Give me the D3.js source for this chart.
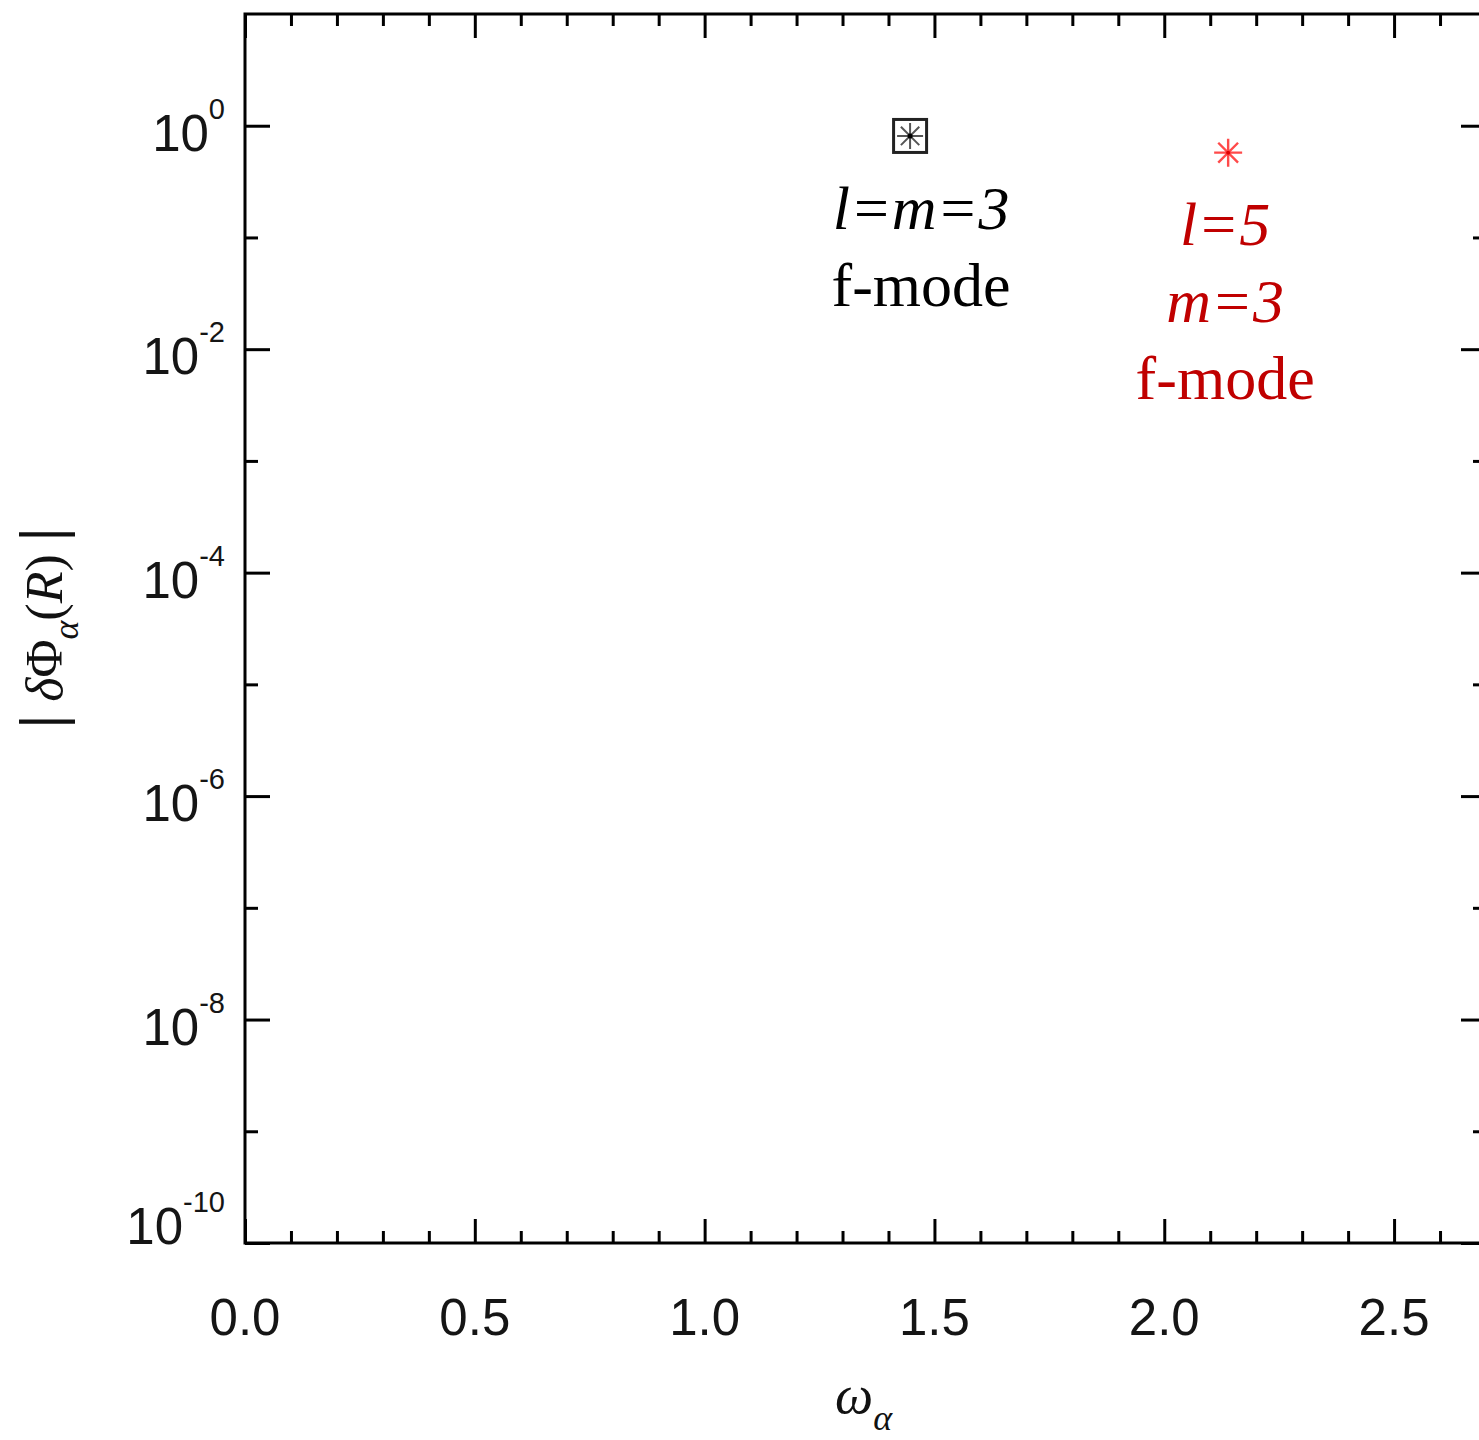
<!DOCTYPE html>
<html><head><meta charset="utf-8">
<script src="https://cdn.jsdelivr.net/npm/d3@7"></script>
<style>body{margin:0;background:#fff}</style>
</head><body><svg id="c" width="1479" height="1440"></svg>
<script>
// ---- data ----
const modeNames = ["l=m=3 f-mode", "l=5 m=3 f-mode"];
const omegaValues = [1.447, 2.139];
const phiValues = [0.81, 0.574];
const xTickValues = [0, 0.5, 1.0, 1.5, 2.0, 2.5];
const xTickLabels = ["0.0", "0.5", "1.0", "1.5", "2.0", "2.5"];
const yTickExponents = [0, -2, -4, -6, -8, -10];
const yMinorExponents = [-1, -3, -5, -7, -9];
const labelLines = [["l=m=3", "f-mode"], ["l=5", "m=3", "f-mode"]];

const svg = d3.select("#c");
const L = 245, T = 14, R = 1486, B = 1243;
const x = d3.scaleLinear().domain([0, 2.7]).range([L, R]);
const y = d3.scaleLog().domain([1e-10, 1e1]).range([B, T]);

const xMinor = d3.range(1, 27).map(d => d / 10).filter(d => Math.abs(d * 2 - Math.round(d * 2)) > 1e-6);
const yMajor = yTickExponents.map(e => Math.pow(10, e));
const yMinor = yMinorExponents.map(e => Math.pow(10, e));

function styleAxis(g) {
  g.select(".domain").remove();
  g.selectAll("line").attr("stroke", "#000").attr("stroke-width", 3);
  g.selectAll("text").remove();
}
// ticks on all four sides, pointing inward
svg.append("g").attr("transform", `translate(0,${B})`).call(d3.axisBottom(x).tickValues(xTickValues).tickSize(-24)).call(styleAxis);
svg.append("g").attr("transform", `translate(0,${B})`).call(d3.axisBottom(x).tickValues(xMinor).tickSize(-12)).call(styleAxis);
svg.append("g").attr("transform", `translate(0,${T})`).call(d3.axisTop(x).tickValues(xTickValues).tickSize(-24)).call(styleAxis);
svg.append("g").attr("transform", `translate(0,${T})`).call(d3.axisTop(x).tickValues(xMinor).tickSize(-12)).call(styleAxis);
svg.append("g").attr("transform", `translate(${L},0)`).call(d3.axisLeft(y).tickValues(yMajor).tickSize(-25)).call(styleAxis);
svg.append("g").attr("transform", `translate(${L},0)`).call(d3.axisLeft(y).tickValues(yMinor).tickSize(-13)).call(styleAxis);
svg.append("g").attr("transform", `translate(${R},0)`).call(d3.axisRight(y).tickValues(yMajor).tickSize(-25)).call(styleAxis);
svg.append("g").attr("transform", `translate(${R},0)`).call(d3.axisRight(y).tickValues(yMinor).tickSize(-13)).call(styleAxis);

// frame
svg.append("rect").attr("x", L).attr("y", T).attr("width", R - L).attr("height", B - T)
  .attr("fill", "none").attr("stroke", "#000").attr("stroke-width", 3);

// x tick labels
svg.append("g").selectAll("text").data(xTickValues).join("text")
  .attr("x", d => x(d)).attr("y", 1335).attr("text-anchor", "middle")
  .attr("font-family", "Liberation Sans, Arial, sans-serif").attr("font-size", 51).attr("fill", "#151515")
  .text((d, i) => xTickLabels[i]);

// y tick labels
const yl = svg.append("g").selectAll("text").data(yTickExponents).join("text")
  .attr("x", 225)
  .attr("y", (d, i) => y(Math.pow(10, d)) + (i === yTickExponents.length - 1 ? 1 : 25))
  .attr("text-anchor", "end")
  .attr("font-family", "Liberation Sans, Arial, sans-serif").attr("fill", "#151515");
yl.append("tspan").attr("font-size", 51).text("10");
yl.append("tspan").attr("font-size", 29).attr("dy", -32).text(d => String(d));

// axis titles
const xt = svg.append("text").attr("x", 835).attr("y", 1413)
  .attr("font-family", "Liberation Serif, Times New Roman, serif").attr("font-style", "italic").attr("fill", "#111");
xt.append("tspan").attr("font-size", 54).text("ω");
xt.append("tspan").attr("font-size", 36).attr("dy", 17).text("α");

const ytG = svg.append("g").attr("transform", "translate(62,628) rotate(-90)");
const yt = ytG.append("text").attr("text-anchor", "middle")
  .attr("font-family", "Liberation Serif, Times New Roman, serif").attr("font-size", 52).attr("fill", "#111");
yt.append("tspan").attr("font-size", 62).attr("font-weight", "bold").text("|");
yt.append("tspan").text(" ");
yt.append("tspan").attr("font-style", "italic").text("δ");
yt.append("tspan").text("Φ");
yt.append("tspan").attr("font-style", "italic").attr("font-size", 36).attr("dy", 16).text("α");
yt.append("tspan").attr("dy", -16).text("(");
yt.append("tspan").attr("font-style", "italic").text("R");
yt.append("tspan").text(") ");
yt.append("tspan").attr("font-size", 62).attr("font-weight", "bold").text("|");

// markers
function asterisk(cx, cy, r) {
  let p = "";
  for (let k = 0; k < 4; k++) {
    const a = k * Math.PI / 4;
    p += `M${cx - r * Math.cos(a)},${cy - r * Math.sin(a)}L${cx + r * Math.cos(a)},${cy + r * Math.sin(a)}`;
  }
  return p;
}
const mx0 = x(omegaValues[0]), my0 = y(phiValues[0]);
svg.append("rect").attr("x", mx0 - 16.5).attr("y", my0 - 16.5).attr("width", 33).attr("height", 33)
  .attr("fill", "none").attr("stroke", "#222").attr("stroke-width", 3);
svg.append("path").attr("d", asterisk(mx0, my0, 13)).attr("stroke", "#555").attr("stroke-width", 2);
svg.append("circle").attr("cx", mx0).attr("cy", my0).attr("r", 2.5).attr("fill", "#000");

const mx1 = x(omegaValues[1]), my1 = y(phiValues[1]);
svg.append("path").attr("d", asterisk(mx1, my1, 14)).attr("stroke", "#ff4a4a").attr("stroke-width", 2.4);
svg.append("circle").attr("cx", mx1).attr("cy", my1).attr("r", 2).attr("fill", "#e00000");

// mode labels
const labelColors = ["#000", "#c00000"];
labelLines.forEach((lines, i) => {
  const cx = x(omegaValues[i]) + (i === 0 ? 11 : -3);
  const y0 = y(phiValues[i]) + (i === 0 ? 93 : 92);
  const t = svg.append("text").attr("text-anchor", "middle")
    .attr("font-family", "Liberation Serif, Times New Roman, serif").attr("font-size", 62)
    .attr("fill", labelColors[i]);
  lines.forEach((ln, j) => {
    t.append("tspan").attr("x", cx).attr("y", y0 + j * 77)
      .attr("font-style", ln === "f-mode" ? "normal" : "italic").text(ln);
  });
});
</script></body></html>
